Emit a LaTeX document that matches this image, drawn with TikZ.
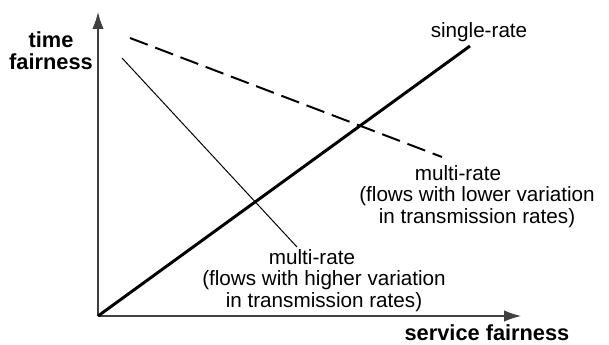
\documentclass[tikz,border=0pt]{standalone}
\usepackage{fontspec}
\setmainfont{Liberation Sans}
\usetikzlibrary{arrows.meta}

\begin{document}
\begin{tikzpicture}[every node/.style={font=\fontsize{14.7}{15.4}\selectfont, align=center, inner sep=0pt},
  axislabel/.style={font=\fontsize{15.5}{15.8}\selectfont\bfseries}]
  \useasboundingbox (-2.45,-0.7) rectangle (12.775,7.9);
  \coordinate (O) at (0,0);
  \draw[line width=0.8pt, black!75, -{Latex[length=12pt,width=8pt]}] (O)--(0,7.6) coordinate (ytip);
  \draw[line width=0.8pt, black!75, -{Latex[length=12pt,width=8pt]}] (O)--(10.575,0) coordinate (xtip);
  \draw[line width=2.1pt] (O)--(9.3,6.75) coordinate (single);
  \draw[line width=1.4pt, dash pattern=on 13.5pt off 5.7pt] (0.8,6.95) coordinate (lowA)--(8.6,3.975) coordinate (lowB);
  \draw[line width=0.7pt] (0.6,6.45) coordinate (highA)--(4.975,1.725) coordinate (highB);
  \node[axislabel] (ylabel) at (-1.175,6.625) {time\\fairness};
  \node[axislabel] (xlabel) at (9.725,-0.43) {service fairness};
  \node (singlelabel) at (9.525,7.1) {single-rate};
  \node (lowlabel) at (9.475,2.99) {multi-rate\hspace*{0.95cm}\\(flows with lower variation\\in transmission rates)};
  \node (highlabel) at (5.65,0.89) {multi-rate\hspace*{0.6cm}\\(flows with higher variation\\in transmission rates)};
\end{tikzpicture}
\end{document}
